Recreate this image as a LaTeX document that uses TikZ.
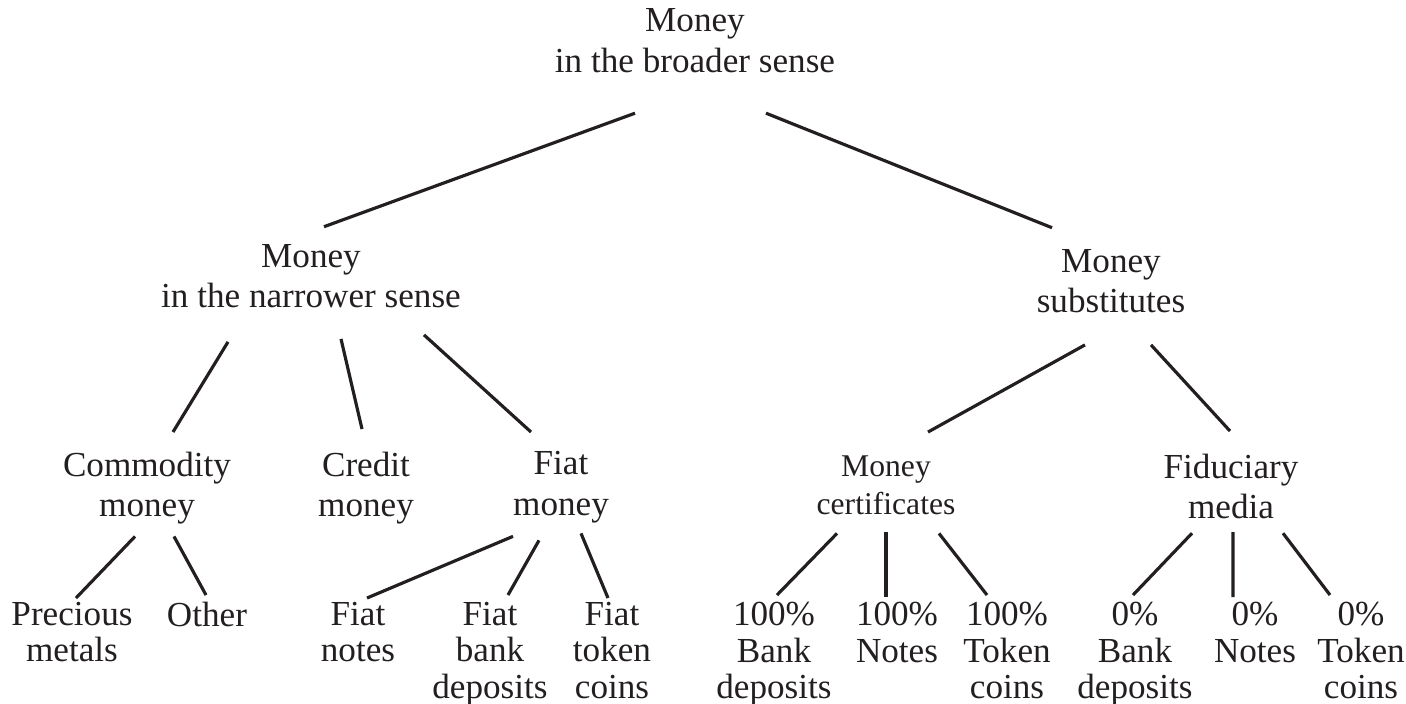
\documentclass[tikz,border=0pt]{standalone}
\usepackage{fontspec}
\setmainfont{Liberation Serif}
\usepackage{xcolor}
\usepackage{tikz}
\usetikzlibrary{calc}
\definecolor{inkgray}{RGB}{35,31,32}

\begin{document}
\begin{tikzpicture}[
    lbl/.style={align=center, inner sep=0pt, anchor=north, text=inkgray, font=\fontsize{10}{11.5}\selectfont},
    mid/.style={lbl, font=\fontsize{10}{11.4}\selectfont},
    leaf/.style={lbl, font=\fontsize{10}{10.5}\selectfont},
    edge/.style={draw=inkgray, line width=0.9pt}
]
\useasboundingbox (0,0) rectangle (14.06,-7.03);

\node[lbl] (root) at (6.95,-0.08) {Money\\in the broader sense};
\node[lbl] (narrow) at (3.11,-2.437) {Money\\in the narrower sense};
\node[lbl] (subst) at (11.11,-2.487) {Money\\substitutes};

\node[mid] (commodity) at (1.47,-4.51) {Commodity\\money};
\node[mid] (credit) at (3.66,-4.51) {Credit\\money};
\node[mid] (fiat) at (5.61,-4.51) {Fiat\\money};
\node[mid, font=\fontsize{9}{10.8}\selectfont] (cert) at (8.86,-4.55) {Money\\certificates};
\node[mid] (fiduc) at (12.31,-4.53) {Fiduciary\\media};

% bottom row
\node[leaf] (precious) at (0.72,-6.01) {Precious\\metals};
\node[leaf] (other) at (2.07,-6.01) {Other};
\node[leaf] (fnotes) at (3.58,-6.01) {Fiat\\notes};
\node[leaf] (fbank) at (4.90,-6.01) {Fiat\\bank\\deposits};
\node[leaf] (ftoken) at (6.12,-6.01) {Fiat\\token\\coins};
\node[leaf] (cbank) at (7.74,-6.01) {100\%\\Bank\\deposits};
\node[leaf] (cnotes) at (8.97,-6.01) {100\%\\Notes};
\node[leaf] (ctoken) at (10.07,-6.01) {100\%\\Token\\coins};
\node[leaf] (fibank) at (11.35,-6.01) {0\%\\Bank\\deposits};
\node[leaf] (finotes) at (12.55,-6.01) {0\%\\Notes};
\node[leaf] (fitoken) at (13.61,-6.01) {0\%\\Token\\coins};

% branches
\draw[edge] ($(root.south)+(-0.60,-0.40)$) -- ($(narrow.north)+(0.13,0.17)$);
\draw[edge] ($(root.south)+(0.71,-0.40)$) -- ($(subst.north)+(-0.59,0.21)$);

\draw[edge] ($(narrow.south)+(-0.83,-0.33)$) -- ($(commodity.north)+(0.26,0.19)$);
\draw[edge] ($(narrow.south)+(0.30,-0.30)$) -- ($(credit.north)+(-0.04,0.22)$);
\draw[edge] ($(narrow.south)+(1.13,-0.26)$) -- ($(fiat.north)+(-0.30,0.19)$);
\draw[edge] ($(subst.south)+(-0.26,-0.31)$) -- ($(cert.north)+(0.42,0.23)$);
\draw[edge] ($(subst.south)+(0.40,-0.31)$) -- ($(fiduc.north)+(-0.01,0.22)$);

\draw[edge] ($(commodity.south)+(-0.12,-0.12)$) -- ($(precious.north)+(0.04,0.03)$);
\draw[edge] ($(commodity.south)+(0.27,-0.12)$) -- ($(other.north)+(-0.01,0.06)$);
\draw[edge] ($(fiat.south)+(-0.48,-0.13)$) -- ($(fnotes.north)+(0.09,0.03)$);
\draw[edge] ($(fiat.south)+(-0.22,-0.17)$) -- ($(fbank.north)+(0.18,0.06)$);
\draw[edge] ($(fiat.south)+(0.20,-0.10)$) -- ($(ftoken.north)+(-0.04,0.03)$);

\draw[edge] ($(cert.south)+(-0.49,-0.18)$) -- ($(cbank.north)+(0.03,0.06)$);
\draw[edge] ($(cert.south)+(0,-0.17)$) -- ($(cnotes.north)+(-0.11,0.04)$);
\draw[edge] ($(cert.south)+(0.53,-0.18)$) -- ($(ctoken.north)+(-0.20,0.06)$);
\draw[edge] ($(fiduc.south)+(-0.39,-0.14)$) -- ($(fibank.north)+(-0.02,0.06)$);
\draw[edge] ($(fiduc.south)+(0.02,-0.13)$) -- ($(finotes.north)+(-0.22,0.04)$);
\draw[edge] ($(fiduc.south)+(0.52,-0.14)$) -- ($(fitoken.north)+(-0.31,0.06)$);
\end{tikzpicture}
\end{document}
